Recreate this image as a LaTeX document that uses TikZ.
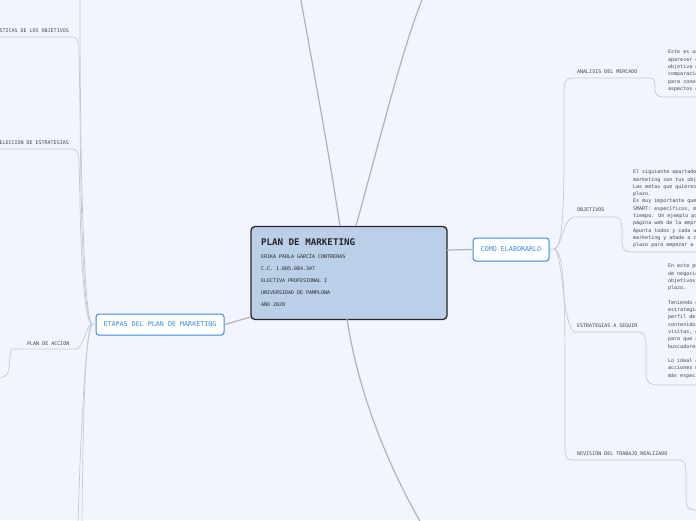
\documentclass[tikz,border=0pt]{standalone}
\usepackage{fontspec}
\setmainfont{DejaVu Sans Mono}[WordSpace={1,0,0}]
\usetikzlibrary{shadows}

\definecolor{fondo}{HTML}{F2F5FE}
\definecolor{azul}{HTML}{3A8CE4}
\definecolor{celeste}{HTML}{BBCFE8}
\definecolor{rama}{HTML}{C6C9D2}
\definecolor{tronco}{HTML}{B2B2B2}
\definecolor{letra}{HTML}{474747}

\tikzset{
  espacio/.style={execute at begin node={\spaceskip=0pt\xspaceskip=0pt\relax}},
  tema/.style={draw=azul, line width=1pt, fill=white, rounded corners=3pt, text=azul,
    font=\fontsize{6.7}{8}\selectfont, inner sep=0pt,
    drop shadow={opacity=0.12, shadow xshift=0.5pt, shadow yshift=-0.8pt}},
  etiqueta/.style={text=letra, font=\fontsize{5}{6}\selectfont, inner sep=0pt},
  cuerpo/.style={espacio, text=letra, font=\fontsize{5}{7.3}\selectfont, align=left, inner sep=0pt, anchor=north west},
  linea/.style={draw=rama, line width=0.7pt},
  grueso/.style={draw=tronco, line width=1.2pt}
}

\begin{document}
\begin{tikzpicture}[x=1pt, y=-1pt]
	\fill[fondo] (0,0) rectangle (696,520);
	\useasboundingbox (0,0) rectangle (696,520);
	\clip (0,0) rectangle (696,520);

	% nodos principales
	\node[espacio, draw=black!85, line width=1.3pt, fill=celeste, rounded corners=4pt,
	      minimum width=196pt, minimum height=93pt, text width=176pt, align=left,
	      inner sep=0pt, text=black!85, font=\fontsize{5}{12.2}\selectfont] (plan) at (349,273)
	  {{\fontsize{9.2}{11}\selectfont\bfseries PLAN DE MARKETING}\\
	   ERIKA PAOLA GARCÍA CONTRERAS\\
	   C.C. 1.005.084.347\\
	   ELECTIVA PROFESIONAL I\\
	   UNIVERSIDAD DE PAMPLONA\\
	   AÑO 2020};
	\node[tema, minimum width=128pt, minimum height=21pt] (etapas) at (160,324.5) {ETAPAS DEL PLAN DE MARKETING};
	\node[tema, minimum width=76pt, minimum height=23pt] (como) at (511,249.5) {COMO ELABORARLO};

	% ramas del centro
	\coordinate (p1) at (340,226);
	\coordinate (p2) at (356,226);
	\coordinate (p3) at (347,319);
	\coordinate (p4) at (251,317);
	\coordinate (p5) at (447,250);
	\draw[grueso] (p1) .. controls (328,150) .. (300,-5);
	\draw[grueso] (p2) .. controls (385,120) and (405,40) .. (424,-5);
	\draw[grueso] (p3) .. controls (358,390) and (385,460) .. (422,525);
	\draw[grueso] (etapas.east) -- (p4);
	\draw[grueso] (p5) -- (como.west);

	% etiquetas de la izquierda
	\node[etiqueta, anchor=base east] (carac) at (69,32) {CARACTERÍSTICAS DE LOS OBJETIVOS};
	\node[etiqueta, anchor=base east] (selec) at (69,144) {SELECCION DE ESTRATEGIAS};
	\node[etiqueta, anchor=base west] (accion) at (27,345) {PLAN DE ACCION};

	\coordinate (lc) at (92,324);
	\coordinate (l1) at (73,37);
	\coordinate (l2) at (73,149);
	\coordinate (l3) at (76,349);
	\draw[linea] (etapas.west) -- (lc);
	\draw[linea] (lc) .. controls (85,322) and (80,200) .. (80,-5);
	\draw[linea] (lc) .. controls (85,322) and (81,250) .. (80,110) -- (79,50) .. controls (79,41) and (77,37) .. (l1) -- (-5,37);
	\draw[linea] (lc) .. controls (85,322) and (81,270) .. (80,200) -- (79,162) .. controls (79,153) and (77,149) .. (l2) -- (-5,149);
	\draw[linea] (lc) .. controls (86,325) and (83,349) .. (l3) -- (12,349)
	  .. controls (10,349) and (10,362) .. (9,368) .. controls (8,376) and (4,378) .. (-3,378);
	\draw[linea] (lc) .. controls (85,330) and (83,420) .. (82,525);
	\draw[linea] (lc) .. controls (85,335) and (80,450) .. (78,525);

	% etiquetas de la derecha
	\node[etiqueta, anchor=base west] (mercado) at (577,73) {ANALISIS DEL MERCADO};
	\node[etiqueta, anchor=base west] (objetivos) at (577,211.5) {OBJETIVOS};
	\node[etiqueta, anchor=base west] (estrategias) at (577,327) {ESTRATEGIAS A SEGUIR};
	\node[etiqueta, anchor=base west] (revision) at (577,455) {REVISIÓN DEL TRABAJO REALIZADO};

	\coordinate (rc) at (554,249);
	\coordinate (r1) at (572,78);
	\coordinate (r2) at (574,217);
	\coordinate (r3) at (574,332);
	\coordinate (r4) at (572,460);
	\draw[linea] (como.east) -- (rc);
	\draw[linea] (rc) .. controls (563,249) and (564,200) .. (564,150) -- (564,92) .. controls (564,82) and (566,78) .. (r1);
	\draw[linea] (rc) .. controls (563,246) and (562,219) .. (r2);
	\draw[linea] (rc) .. controls (563,252) and (562,322) .. (r3);
	\draw[linea] (rc) .. controls (565,250) and (565,300) .. (565,400) -- (565,450) .. controls (565,457) and (567,460) .. (r4);

	\draw[linea] (r1) -- (651,78) .. controls (655,78) and (655,84) .. (655,88) .. controls (655,95) and (658,97) .. (664,97) -- (700,97);
	\draw[linea] (r2) -- (616,217) .. controls (621,217) and (622,224) .. (622,232) -- (622,242) .. controls (622,249) and (625,252) .. (632,252) -- (700,252);
	\draw[linea] (r3) -- (640,332) .. controls (645,332) and (646,340) .. (646,348) -- (646,374) .. controls (646,382) and (650,385) .. (658,385) -- (700,385);
	\draw[linea] (r4) -- (681,460) .. controls (685,460) and (686,468) .. (686,476) -- (686,500) .. controls (686,507) and (689,510) .. (694,510) -- (700,510);

	% textos
	\node[cuerpo] (t1) at (668,49.7) {Este es un análisis que debe\\
	  aparecer en tu plan de forma\\
	  objetiva e incluir una\\
	  comparación con la competencia\\
	  para conocer los principales\\
	  aspectos en los que destacar.};
	\node[cuerpo] (t2) at (633,169.7) {El siguiente apartado del plan de\\
	  marketing son tus objetivos.\\
	  Las metas que quieres alcanzar a corto\\
	  plazo.\\
	  Es muy importante que sean\\
	  SMART: específicos, medibles, alcanzables y en\\
	  tiempo. Un ejemplo podría ser aumentar\\
	  página web de la empresa un 20\%.\\
	  Apunta todos y cada uno de tus objetivos de\\
	  marketing y añade a cada uno un\\
	  plazo para empezar a trabajar.};
	\node[cuerpo] (t3) at (668,263.7) {En este punto debes definir el modelo\\
	  de negocio que te permitirá cumplir los\\
	  objetivos marcados a corto y largo\\
	  plazo.\\
	  ~\\
	  Teniendo en cuenta el punto anterior, las\\
	  estrategias deben adaptarse al\\
	  perfil de tu cliente: crear\\
	  contenidos de valor, aumentar las\\
	  visitas, optimizar la web\\
	  para que aparezca en los\\
	  buscadores.\\
	  ~\\
	  Lo ideal es definir\\
	  acciones muy concretas y lo\\
	  más específicas posible.};
\end{tikzpicture}
\end{document}
